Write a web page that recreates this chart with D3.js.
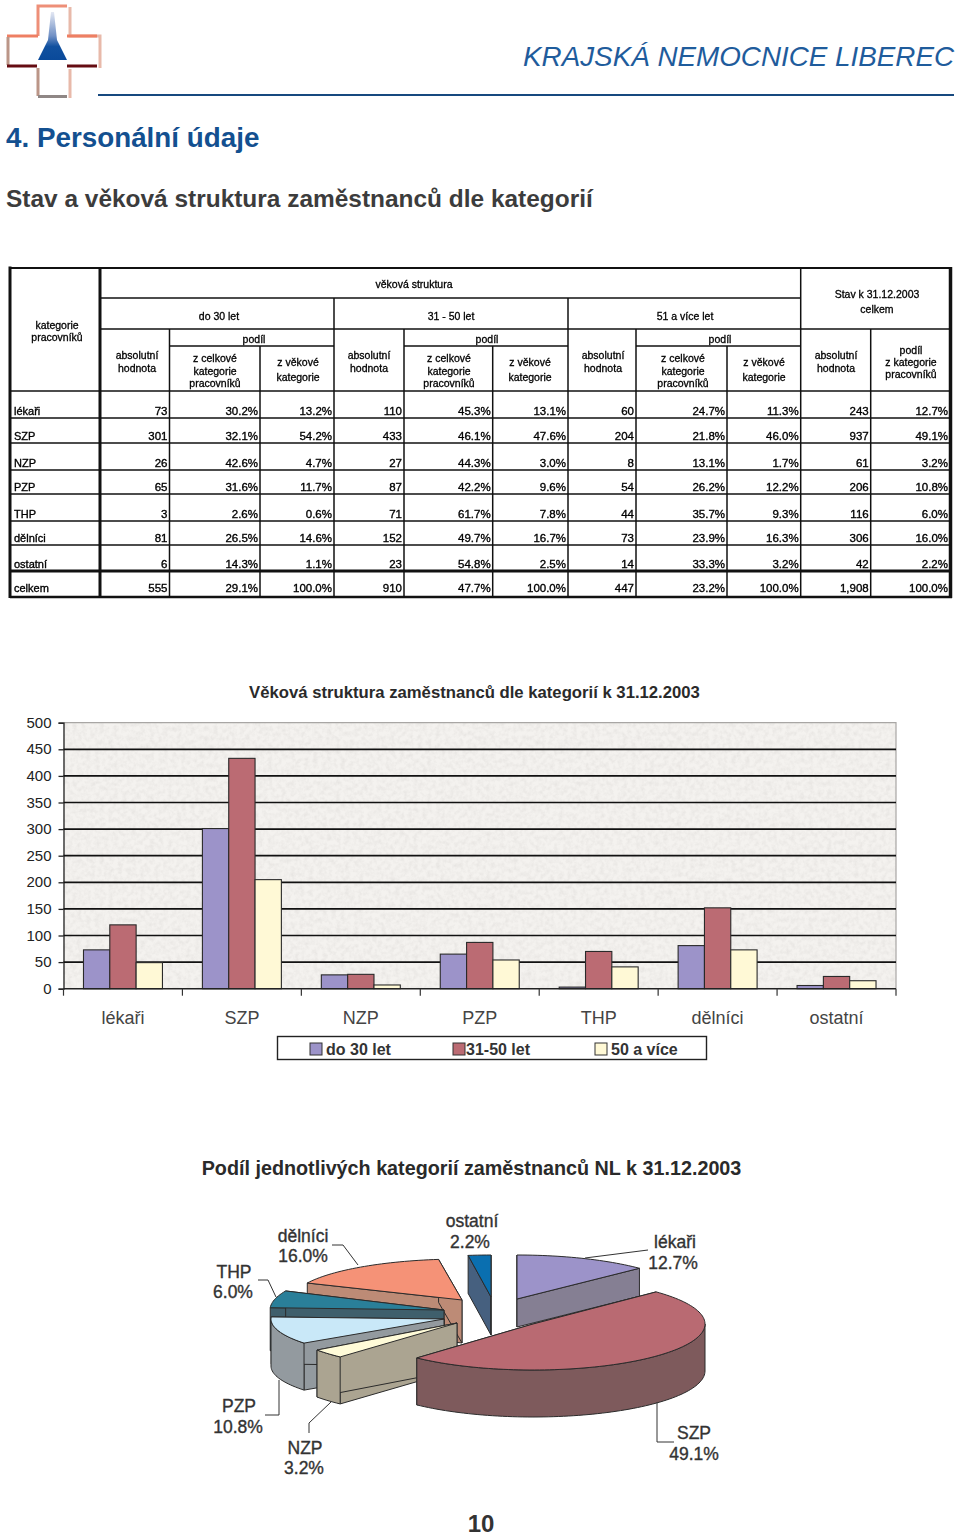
<!DOCTYPE html>
<html lang="cs"><head><meta charset="utf-8">
<style>html,body{margin:0;padding:0;background:#fff}svg{display:block}text{font-family:"Liberation Sans",Arial,sans-serif}</style>
<script src="https://cdn.jsdelivr.net/npm/d3@7/dist/d3.min.js"></script></head><body>
<svg id="c" width="960" height="1536" viewBox="0 0 960 1536"></svg>
<script>
// ---------- data ----------
const categories = ["lékaři","SZP","NZP","PZP","THP","dělníci","ostatní"];
const seriesNames = ["do 30 let","31-50 let","50 a více"];
const under30 = [73,301,26,65,3,81,6];
const from31to50 = [120,433,27,87,70,152,23];
const over50 = [49,205,7,54,41,73,15];
const yTicks = [0,50,100,150,200,250,300,350,400,450,500];
const pieShares = [12.7,49.1,3.2,10.8,6.0,16.0,2.2];
const pieOrder = ["lékaři","SZP","NZP","PZP","THP","dělníci","ostatní"];

const tableLabels = ["lékaři","SZP","NZP","PZP","THP","dělníci","ostatní","celkem"];
const youngCount = ["73","301","26","65","3","81","6","555"];
const youngInCat = ["30.2%","32.1%","42.6%","31.6%","2.6%","26.5%","14.3%","29.1%"];
const youngInAge = ["13.2%","54.2%","4.7%","11.7%","0.6%","14.6%","1.1%","100.0%"];
const midCount = ["110","433","27","87","71","152","23","910"];
const midInCat = ["45.3%","46.1%","44.3%","42.2%","61.7%","49.7%","54.8%","47.7%"];
const midInAge = ["13.1%","47.6%","3.0%","9.6%","7.8%","16.7%","2.5%","100.0%"];
const oldCount = ["60","204","8","54","44","73","14","447"];
const oldInCat = ["24.7%","21.8%","13.1%","26.2%","35.7%","23.9%","33.3%","23.2%"];
const oldInAge = ["11.3%","46.0%","1.7%","12.2%","9.3%","16.3%","3.2%","100.0%"];
const totalCount = ["243","937","61","206","116","306","42","1,908"];
const totalShare = ["12.7%","49.1%","3.2%","10.8%","6.0%","16.0%","2.2%","100.0%"];
const tableColumns = [youngCount,youngInCat,youngInAge,midCount,midInCat,midInAge,oldCount,oldInCat,oldInAge,totalCount,totalShare];

// ---------- layout ----------
const svg = d3.select("#c");
const defs = svg.append("defs");
const f = defs.append("filter").attr("id","soft").attr("x","-5%").attr("y","-20%").attr("width","110%").attr("height","140%");
f.append("feGaussianBlur").attr("stdDeviation",0.35);
const n = defs.append("filter").attr("id","noise").attr("x",0).attr("y",0).attr("width","100%").attr("height","100%");
n.append("feTurbulence").attr("type","fractalNoise").attr("baseFrequency",0.22).attr("numOctaves",3).attr("seed",4);
n.append("feColorMatrix").attr("type","matrix").attr("values","0 0 0 0 0.70  0 0 0 0 0.68  0 0 0 0 0.66  0.9 0 0 0 -0.33");
const sp = defs.append("linearGradient").attr("id","spire").attr("x1",0).attr("x2",0).attr("y1",0).attr("y2",1);
sp.append("stop").attr("offset",0).attr("stop-color","#e4e8f3");
sp.append("stop").attr("offset",.5).attr("stop-color","#6f8fc4");
sp.append("stop").attr("offset",.72).attr("stop-color","#10509f");
sp.append("stop").attr("offset",1).attr("stop-color","#0a4a9a");

function txt(g,x,y,s,o={}){
  return g.append("text").attr("x",x).attr("y",y).text(s)
    .attr("font-size",o.size||12).attr("font-weight",o.weight||"normal").attr("font-style",o.style||"normal")
    .attr("fill",o.fill||"#111").attr("text-anchor",o.anchor||"start")
    .attr("stroke",o.stroke||"none").attr("stroke-width",o.sw||0);
}

// ---------- header ----------
const head = svg.append("g");
const logo = head.append("g").attr("fill","none");
logo.append("path").attr("d","M70 7V36H100V68M70 69V98").attr("stroke","#e8b9aa").attr("stroke-width",3);
logo.append("path").attr("d","M38 36V6H67").attr("stroke","#ee8f78").attr("stroke-width",3);
logo.append("path").attr("d","M38 36H7").attr("stroke","#ee7f63").attr("stroke-width",3);
logo.append("path").attr("d","M67 36H97").attr("stroke","#ee7f63").attr("stroke-width",3);
logo.append("path").attr("d","M8 37V65M38 68V96").attr("stroke","#bb9688").attr("stroke-width",3);
logo.append("path").attr("d","M7 66H37M67 66H97").attr("stroke","#650c12").attr("stroke-width",3);
logo.append("path").attr("d","M38 96.5H67").attr("stroke","#8f8785").attr("stroke-width",3);
logo.append("path").attr("d","M51 12H54L57 40L67 60H38L48 40Z").attr("fill","url(#spire)");
txt(head,954,66,"KRAJSKÁ NEMOCNICE LIBEREC",{size:27.8,style:"italic",fill:"#1f5c9c",anchor:"end"});
head.append("line").attr("x1",98).attr("x2",954).attr("y1",95).attr("y2",95).attr("stroke","#17497f").attr("stroke-width",2);
txt(head,6,147,"4. Personální údaje",{size:27.8,weight:"bold",fill:"#135090"});
txt(head,6,207,"Stav a věková struktura zaměstnanců dle kategorií",{size:24.45,weight:"bold",fill:"#3c3c3c"});
txt(head,481,1532,"10",{size:24,weight:"bold",fill:"#333",anchor:"middle"});

// ---------- table ----------
const T = svg.append("g");
const colEdges = [100,169.5,260,334,404,492.7,568,636,727,800.7,870.7,950];
const rowEdges = [391,418,443,470,494,521,545,571,597];
const tLine=(x1,y1,x2,y2,w)=>T.append("line").attr("x1",x1).attr("y1",y1).attr("x2",x2).attr("y2",y2).attr("stroke","#111").attr("stroke-width",w);
tLine(10,268,952,268,2); tLine(10,597,952,597,2.5); tLine(10,266.5,10,598,3); tLine(950.5,267,950.5,598,3.5); tLine(100,268,100,597,3);
tLine(101,298,800.7,298,1.5); tLine(101,329,950,329,1.5);
[[169.5,334],[404,568],[636,800.7]].forEach(([a,b])=>tLine(a,346,b,346,1.5));
rowEdges.forEach((y,i)=>{ if(i<rowEdges.length-1) tLine(10,y,950,y,i===7?3.2:1.5); });
[[334,298,597],[568,298,597],[800.7,268,597],[169.5,329,597],[404,329,597],[636,329,597],[870.7,329,597],[260,346,597],[492.7,346,597],[727,346,597]]
  .forEach(([x,a,b])=>tLine(x,a,x,b,1.5));
const tt = T.append("g").attr("filter","url(#soft)");
const hdr=(x,y,s)=>txt(tt,x,y,s,{size:10.5,anchor:"middle",fill:"#000",stroke:"#000",sw:.3});
hdr(414,288,"věková struktura");
hdr(877,298,"Stav k 31.12.2003"); hdr(877,313,"celkem");
hdr(57,329,"kategorie"); hdr(57,341,"pracovníků");
[["do 30 let",219],["31 - 50 let",451],["51 a více let",685]].forEach(([s,x])=>hdr(x,320,s));
[[137,254,215,298],[369,487,449,530],[603,720,683,764]].forEach(([a,b,c,d])=>{
  hdr(a,359,"absolutní"); hdr(a,372,"hodnota");
  hdr(b,343,"podíl");
  hdr(c,362,"z celkové"); hdr(c,375,"kategorie"); hdr(c,387,"pracovníků");
  hdr(d,366,"z věkové"); hdr(d,381,"kategorie");
});
hdr(836,359,"absolutní"); hdr(836,372,"hodnota");
hdr(911,354,"podíl"); hdr(911,366,"z kategorie"); hdr(911,378,"pracovníků");
tableLabels.forEach((s,r)=>{
  const y=rowEdges[r+1]-(r===7?5:3);
  txt(tt,14,y,s,{size:11,fill:"#000",stroke:"#000",sw:.35});
  tableColumns.forEach((col,c)=>txt(tt,colEdges[c+1]-2,y,col[r],{size:11.5,anchor:"end",fill:"#000",stroke:"#000",sw:.35}));
});

// ---------- bar chart ----------
const B = svg.append("g");
const x0 = d3.scaleBand().domain(categories).range([63.5,896]).paddingInner(0.336).paddingOuter(0.168);
const x1 = d3.scaleBand().domain(seriesNames).range([0,x0.bandwidth()]);
const y = d3.scaleLinear().domain([0,500]).range([988.7,722.7]);
const barColors = d3.scaleOrdinal().domain(seriesNames).range(["#9c93c9","#bb6b73","#fff9d6"]);
B.append("rect").attr("x",63.5).attr("y",722.7).attr("width",832.5).attr("height",266).attr("fill","#f4f2ef");
B.append("rect").attr("x",63.5).attr("y",722.7).attr("width",832.5).attr("height",266).attr("filter","url(#noise)");
B.append("path").attr("d",`M63.5 ${y(500)}H896V${y(0)}`).attr("fill","none").attr("stroke","#a8a6a4").attr("stroke-width",1.2);
const yAxis = d3.axisLeft(y).tickValues(yTicks).tickSize(5).tickPadding(7);
const ya = B.append("g").attr("transform","translate(63.5,0)").call(yAxis);
ya.select(".domain").attr("stroke","#222").attr("stroke-width",1.3);
ya.selectAll(".tick line").attr("stroke","#222").attr("stroke-width",1.3);
ya.selectAll("text").attr("font-size",15).attr("font-family","Liberation Sans").attr("fill","#222").attr("dy","0.3em");
B.append("g").selectAll("line").data(yTicks.slice(1,-1)).join("line")
  .attr("x1",63.5).attr("x2",896).attr("y1",d=>y(d)).attr("y2",d=>y(d)).attr("stroke","#111").attr("stroke-width",1.7);
const series=[under30,from31to50,over50];
const bars=B.append("g");
categories.forEach((c,i)=>seriesNames.forEach((s,j)=>{
  bars.append("rect").attr("x",x0(c)+x1(s)).attr("y",y(series[j][i])).attr("width",x1.bandwidth())
    .attr("height",y(0)-y(series[j][i])).attr("fill",barColors(s)).attr("stroke","#2a2a2a").attr("stroke-width",1.1);
}));
B.append("line").attr("x1",63.5).attr("x2",896).attr("y1",y(0)).attr("y2",y(0)).attr("stroke","#222").attr("stroke-width",1.5);
B.append("g").selectAll("line").data(d3.range(categories.length+1)).join("line")
  .attr("x1",i=>63.5+i*x0.step()).attr("x2",i=>63.5+i*x0.step()).attr("y1",y(0)).attr("y2",y(0)+7).attr("stroke","#333").attr("stroke-width",1.2);
categories.forEach(c=>txt(B,x0(c)+x0.bandwidth()/2,1024,c,{size:18,anchor:"middle",fill:"#444"}));
txt(B,474.5,698,"Věková struktura zaměstnanců dle kategorií k 31.12.2003",{size:16.7,weight:"bold",anchor:"middle",fill:"#2a2a2a"});
B.append("rect").attr("x",277.5).attr("y",1036.5).attr("width",429).attr("height",23).attr("fill","#fff").attr("stroke","#222").attr("stroke-width",1.4);
[310,453,595].forEach((sx,i)=>{
  B.append("rect").attr("x",sx).attr("y",1043).attr("width",12).attr("height",12).attr("fill",barColors(seriesNames[i])).attr("stroke","#333");
  txt(B,sx+(i===1?13:16),1055,seriesNames[i],{size:16,weight:"bold",fill:"#333"});
});

// ---------- 3D pie ----------
const P = svg.append("g");
const pie = d3.pie().sort(null).value(d=>d);
const arcs = pie(pieShares);
const pieTop = ["#9c93c9","#b96a72","#fffbd8","#c9e8f8","#2a7f99","#f59277","#0a6fb0"];
const pieSide = ["#857f93","#7e5a5c","#aba491","#939a9f","#3f5f6c","#bd8b76","#46607f"];
// centre and projected radii of each exploded slice
const sliceGeom = [
  {cx:517,cy:1299,rx:171,ry:44,d:28},
  {cx:533,cy:1324,rx:172,ry:46,d:47},
  {cx:457,cy:1323,rx:173,ry:46,d:47},
  {cx:444,cy:1319,rx:173,ry:41,d:47},
  {cx:444,cy:1310,rx:174,ry:46,d:43},
  {cx:462,cy:1300,rx:170,ry:41,d:43},
  {cx:491,cy:1297,rx:166,ry:42,d:38}
];
const line = d3.line();
function rim(g,a,b,z){
  const k=Math.max(2,Math.ceil((b-a)/0.03));
  return d3.range(k+1).map(i=>{const t=a+(b-a)*i/k;return [g.cx+g.rx*Math.sin(t),g.cy-g.ry*Math.cos(t)+z];});
}
[6,0,5,4,3,2,1].forEach(i=>{
  const a=arcs[i], g=sliceGeom[i], sl=P.append("g").attr("stroke","#2b2b2b").attr("stroke-width",1).attr("stroke-linejoin","round");
  [a.startAngle,a.endAngle].forEach(t=>{
    const p=rim(g,t,t,0)[0];
    sl.append("path").attr("fill",pieSide[i]).attr("d",line([[g.cx,g.cy],p,[p[0],p[1]+g.d],[g.cx,g.cy+g.d]])+"Z");
  });
  const lo=Math.max(a.startAngle,Math.PI/2), hi=Math.min(a.endAngle,3*Math.PI/2);
  if(hi>lo){
    sl.append("path").attr("fill",pieSide[i]).attr("d",line(rim(g,lo,hi,0).concat(rim(g,lo,hi,g.d).reverse()))+"Z");
  }
  sl.append("path").attr("fill",pieTop[i]).attr("d",line([[g.cx,g.cy]].concat(rim(g,a.startAngle,a.endAngle,0)))+"Z");
});
const leaders=[[[585,1258],[648,1250]],[[657,1402],[657,1442],[674,1442]],[[331,1402],[309,1423],[309,1433]],[[279,1380],[279,1415],[265,1415]],[[276,1297],[268,1280],[258,1280]],[[358,1265],[343,1245],[332,1245]]];
leaders.forEach(l=>P.append("path").attr("d",line(l)).attr("fill","none").attr("stroke","#333").attr("stroke-width",1));
const pieLabelPos=[[675,1248,673,1269],[694,1439,694,1460],[305,1454,304,1474],[239,1412,238,1433],[234,1278,233,1298],[303,1242,303,1262],[472,1227,470,1248]];
pieOrder.forEach((s,i)=>{
  const p=pieLabelPos[i];
  txt(P,p[0],p[1],s,{size:17.5,anchor:"middle",fill:"#333",stroke:"#333",sw:.35});
  txt(P,p[2],p[3],d3.format(".1f")(pieShares[i])+"%",{size:17.5,anchor:"middle",fill:"#333",stroke:"#333",sw:.35});
});
txt(P,471.5,1175,"Podíl jednotlivých kategorií zaměstnanců NL k 31.12.2003",{size:19.75,weight:"bold",anchor:"middle",fill:"#2a2a2a"});
</script></body></html>
